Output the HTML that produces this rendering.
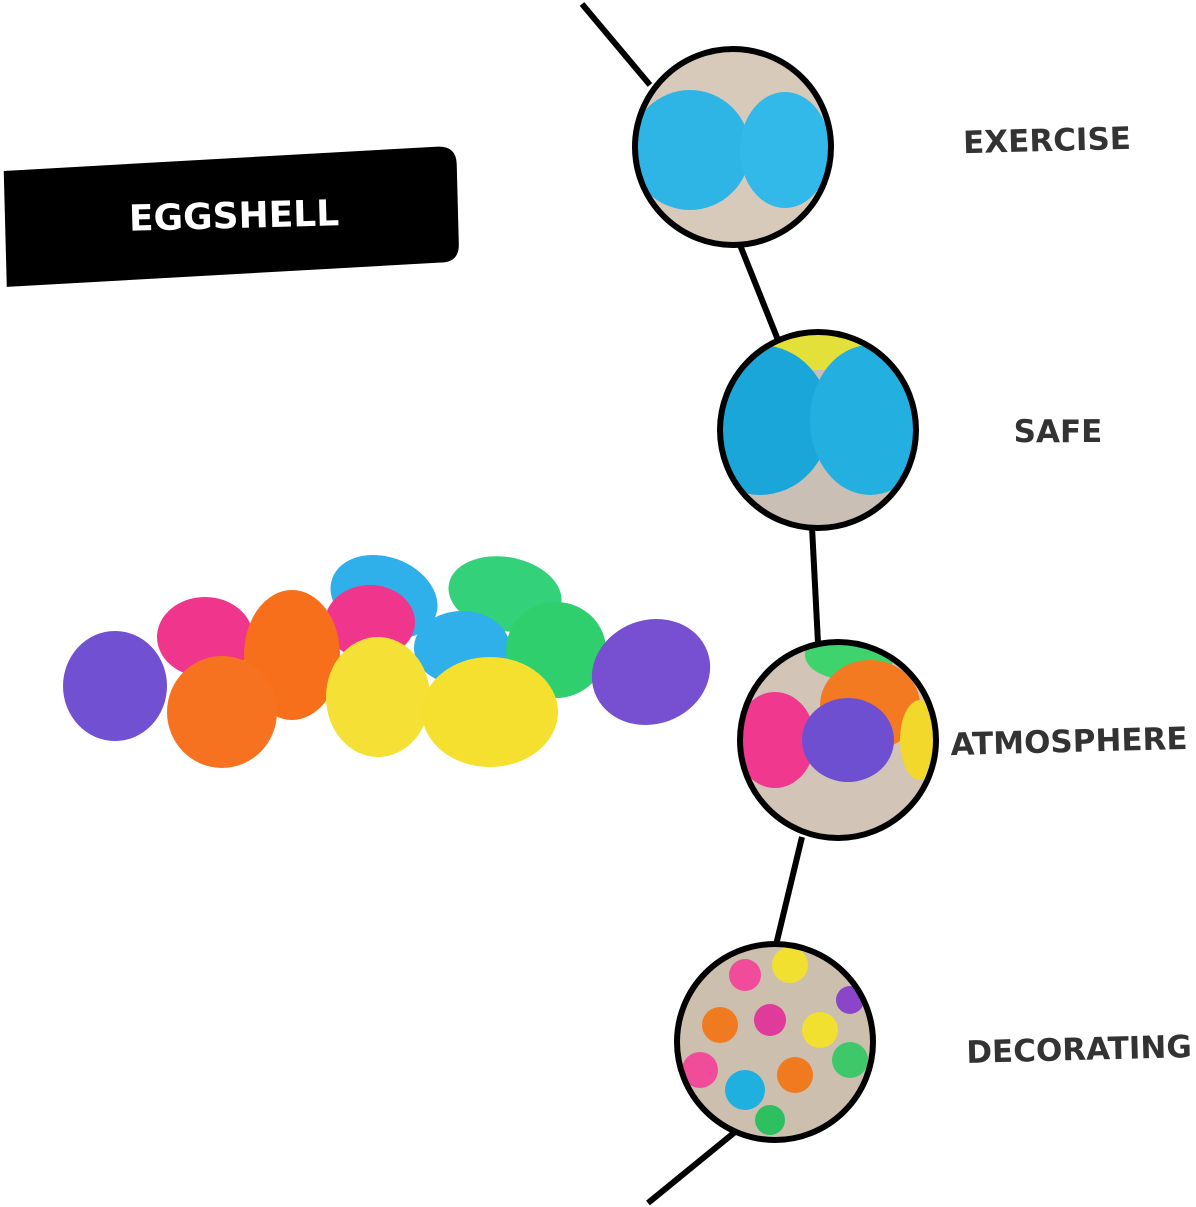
<!DOCTYPE html>
<html><head><meta charset="utf-8"><style>
html,body{margin:0;padding:0;background:#fff;}
svg{display:block;}
text{font-family:"DejaVu Sans","Liberation Sans",sans-serif;font-weight:bold;}
</style></head><body>
<svg width="1196" height="1207" viewBox="0 0 1196 1207" xmlns="http://www.w3.org/2000/svg">
<defs>
<clipPath id="c1"><circle cx="733" cy="147" r="97"/></clipPath>
<clipPath id="c2"><circle cx="818" cy="430" r="97"/></clipPath>
<clipPath id="c3"><circle cx="838" cy="740" r="97"/></clipPath>
<clipPath id="c4"><circle cx="775" cy="1042" r="97"/></clipPath>
</defs>
<!-- black label -->
<g transform="rotate(-1.5 232 216)">
<path d="M5 165 L440 152 Q458 152 458 170 L458 250 Q458 268 440 268 L5 281 Z" fill="#000"/>
</g>
<text x="234" y="228" font-size="36" fill="#fff" text-anchor="middle" transform="rotate(-1.5 234 216)">EGGSHELL</text>
<!-- curve -->
<path d="M582 4 L650 85 M740 245 L778 340 M812 527 L818 643 M802 837 L776 945 M735 1132 L648 1203" stroke="#000" stroke-width="6" fill="none"/>
<!-- circle 1 -->
<g clip-path="url(#c1)">
<rect x="630" y="44" width="210" height="210" fill="#d8cabb"/>
<ellipse cx="690" cy="150" rx="60" ry="60" fill="#2fb4e6"/>
<ellipse cx="785" cy="150" rx="45" ry="58" fill="#33b8ea"/>
</g>
<circle cx="733" cy="147" r="98" fill="none" stroke="#000" stroke-width="6"/>
<!-- circle 2 -->
<g clip-path="url(#c2)">
<rect x="715" y="327" width="210" height="210" fill="#c9bfb4"/>
<rect x="760" y="330" width="120" height="40" fill="#e4e03a"/>
<ellipse cx="760" cy="420" rx="70" ry="75" fill="#1aa6d8"/>
<ellipse cx="870" cy="420" rx="60" ry="75" fill="#23b0e0"/>
</g>
<circle cx="818" cy="430" r="98" fill="none" stroke="#000" stroke-width="6"/>
<!-- circle 3 -->
<g clip-path="url(#c3)">
<rect x="735" y="637" width="210" height="210" fill="#d2c4b6"/>
<ellipse cx="850" cy="655" rx="45" ry="25" fill="#3fd36e"/>
<ellipse cx="870" cy="705" rx="50" ry="45" fill="#f47a22"/>
<ellipse cx="775" cy="740" rx="40" ry="48" fill="#f0388f"/>
<ellipse cx="920" cy="740" rx="20" ry="40" fill="#f2d82a"/>
<ellipse cx="848" cy="740" rx="46" ry="42" fill="#6e4fd0"/>
</g>
<circle cx="838" cy="740" r="98" fill="none" stroke="#000" stroke-width="6"/>
<!-- circle 4 -->
<g clip-path="url(#c4)">
<rect x="672" y="940" width="210" height="210" fill="#cdbfae"/>
<circle cx="745" cy="975" r="16" fill="#f04c9a"/>
<circle cx="790" cy="965" r="18" fill="#f2e030"/>
<circle cx="720" cy="1025" r="18" fill="#f07a20"/>
<circle cx="770" cy="1020" r="16" fill="#e03a9a"/>
<circle cx="820" cy="1030" r="18" fill="#f2e030"/>
<circle cx="850" cy="1000" r="14" fill="#8b45c8"/>
<circle cx="700" cy="1070" r="18" fill="#f04c9a"/>
<circle cx="745" cy="1090" r="20" fill="#1fb0e0"/>
<circle cx="795" cy="1075" r="18" fill="#f07a20"/>
<circle cx="850" cy="1060" r="18" fill="#3fc86a"/>
<circle cx="770" cy="1120" r="15" fill="#2ec060"/>
</g>
<circle cx="775" cy="1042" r="98" fill="none" stroke="#000" stroke-width="6"/>
<!-- labels -->
<text x="1047" y="151" font-size="31" fill="#333" text-anchor="middle" transform="rotate(-1.5 1047 140)">EXERCISE</text>
<text x="1058" y="442" font-size="31" fill="#333" text-anchor="middle">SAFE</text>
<text x="1069" y="752" font-size="31" fill="#333" text-anchor="middle" transform="rotate(-1.5 1069 740)">ATMOSPHERE</text>
<text x="1079" y="1060" font-size="31" fill="#333" text-anchor="middle" transform="rotate(-1.5 1079 1048)">DECORATING</text>
<!-- eggs -->
<ellipse cx="384" cy="597" rx="55" ry="40" fill="#2fb0ea" transform="rotate(20 384 597)"/>
<ellipse cx="505" cy="594" rx="57" ry="37" fill="#32d17a" transform="rotate(10 505 594)"/>
<ellipse cx="205" cy="637" rx="48" ry="40" fill="#f0358d"/>
<ellipse cx="370" cy="622" rx="45" ry="37" fill="#f0358d"/>
<ellipse cx="292" cy="655" rx="48" ry="65" fill="#f76f1a"/>
<ellipse cx="462" cy="648" rx="48" ry="37" fill="#2fb0ea"/>
<ellipse cx="556" cy="650" rx="50" ry="48" fill="#2fcf6e"/>
<ellipse cx="651" cy="672" rx="60" ry="52" fill="#7650d0" transform="rotate(-20 651 672)"/>
<ellipse cx="115" cy="686" rx="52" ry="55" fill="#7250d2"/>
<ellipse cx="222" cy="712" rx="55" ry="56" fill="#f77220"/>
<ellipse cx="378" cy="697" rx="52" ry="60" fill="#f5e035"/>
<ellipse cx="490" cy="712" rx="68" ry="55" fill="#f5e030"/>
</svg>
</body></html>
